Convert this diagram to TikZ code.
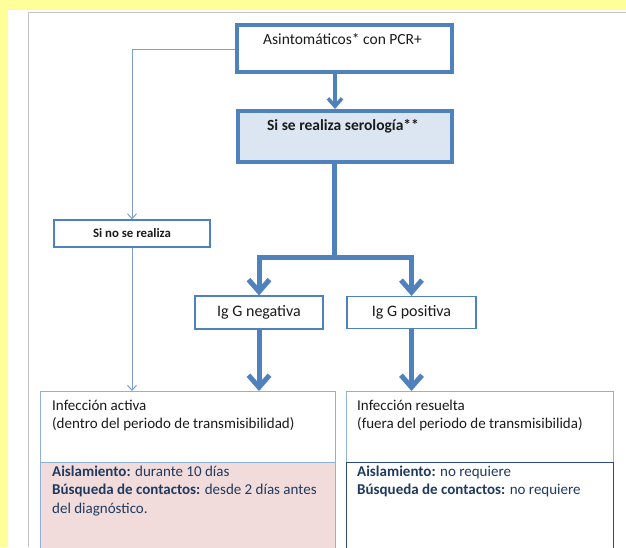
\documentclass[tikz,border=0pt]{standalone}
\usepackage{fontspec}
\setmainfont{Carlito}
\usetikzlibrary{arrows.meta}
\definecolor{bgyellow}{HTML}{FFFF99}
\definecolor{obl}{HTML}{4F81BD}
\definecolor{lbl}{HTML}{8EB0DA}
\definecolor{fillbl}{HTML}{DCE6F2}
\definecolor{fillpk}{HTML}{F2DCDB}
\definecolor{navy}{HTML}{1F3A5F}
\definecolor{dnavy}{HTML}{2B4A75}
\definecolor{txt}{HTML}{1A1A1A}
\definecolor{frame}{HTML}{C4C4C4}
\tikzset{
  bigbox/.style={draw=obl, line width=4pt, inner sep=0pt},
  smallbox/.style={draw=obl, line width=1.2pt, inner sep=0pt, text=txt},
  outbox/.style={draw=lbl, line width=1.1pt, inner sep=0pt},
  linetxt/.style={anchor=base west, inner sep=0pt, text=txt, font=\fontsize{15}{18}\selectfont},
  lowtxt/.style={anchor=base west, inner sep=0pt, text=navy, font=\fontsize{15}{18}\selectfont},
  fatarrow/.style={draw=obl, line width=5pt, -{Straight Barb[length=12pt,width=21pt]}},
  midarrow/.style={draw=obl, line width=3.5pt, -{Straight Barb[length=8pt,width=14pt]}},
  thinarrow/.style={draw=obl!75, line width=1pt, -{Straight Barb[length=5pt,width=9pt]}},
}
\begin{document}
\begin{tikzpicture}[x=1pt,y=-1pt]
\useasboundingbox (0,0) rectangle (626,547);
\fill[bgyellow] (0,0) rectangle (626,547);
\fill[white] (8,10) rectangle (626,547);
\draw[frame, line width=1.5pt] (28.5,547) -- (28.5,12.5) -- (626,12.5);

% top boxes
\node[bigbox, anchor=north west, minimum width=215pt, minimum height=47pt] (top) at (235,23) {};
\node[inner sep=0pt, text=txt, font=\fontsize{15.5}{18}\selectfont] (toptxt) at (342.5,39) {Asintomáticos* con PCR+};
\node[bigbox, fill=fillbl, anchor=north west, minimum width=214pt, minimum height=51pt] (sero) at (236,109) {};
\node[inner sep=0pt, text=txt, font=\bfseries\fontsize{15.5}{18}\selectfont] (serotxt) at (343,126) {Si se realiza serología**};

% small boxes
\node[smallbox, minimum width=156pt, minimum height=27pt, font=\bfseries\fontsize{12.8}{14}\selectfont] (sino) at (132,233.5) {Si no se realiza};
\node[smallbox, minimum width=128pt, minimum height=33pt, font=\fontsize{16}{18}\selectfont] (igneg) at (259,312.5) {Ig G negativa};
\node[smallbox, minimum width=129pt, minimum height=32pt, font=\fontsize{16}{18}\selectfont] (igpos) at (411.5,312.5) {Ig G positiva};

% bottom boxes
\node[outbox, anchor=north west, minimum width=295pt, minimum height=71pt] (act) at (40,391) {};
\node[outbox, fill=fillpk, anchor=north west, minimum width=295pt, minimum height=100pt] (actlow) at (40,462) {};
\node[outbox, anchor=north west, minimum width=267pt, minimum height=71pt] (res) at (346,391) {};
\node[draw=dnavy, line width=1.1pt, inner sep=0pt, anchor=north west, minimum width=267pt, minimum height=100pt] (reslow) at (346,462) {};

\node[linetxt] (a1) at (52,410) {Infección activa};
\node[linetxt] (a2) at (52,428.5) {(dentro del periodo de transmisibilidad)};
\node[lowtxt] (a3) at (52,476) {\textbf{Aislamiento:} durante 10 días};
\node[lowtxt] (a4) at (52,494.5) {\textbf{Búsqueda de contactos:} desde 2 días antes};
\node[lowtxt] (a5) at (52,513) {del diagnóstico.};

\node[linetxt] (r1) at (357,410) {Infección resuelta};
\node[linetxt] (r2) at (357,428.5) {(fuera del periodo de transmisibilida)};
\node[lowtxt] (r3) at (357,476) {\textbf{Aislamiento:} no requiere};
\node[lowtxt] (r4) at (357,494.5) {\textbf{Búsqueda de contactos:} no requiere};

% connectors
\coordinate (c1) at (335,0);
\draw[midarrow] (top.south -| c1) -- (sero.north -| c1);
\coordinate (bar) at (334,257);
\draw[draw=obl, line width=5pt] (sero.south -| bar) -- (bar);
\draw[fatarrow] (bar) -| (igneg.north);
\draw[fatarrow] (bar) -| (igpos.north);
\draw[fatarrow] (igneg.south) -- (igneg.south |- act.north);
\draw[fatarrow] (igpos.south) -- (igpos.south |- res.north);

\coordinate (t1) at (132,49);
\draw[thinarrow] (top.west |- t1) -| (sino.north);
\draw[thinarrow] (sino.south) -- (sino.south |- act.north);
\end{tikzpicture}
\end{document}
